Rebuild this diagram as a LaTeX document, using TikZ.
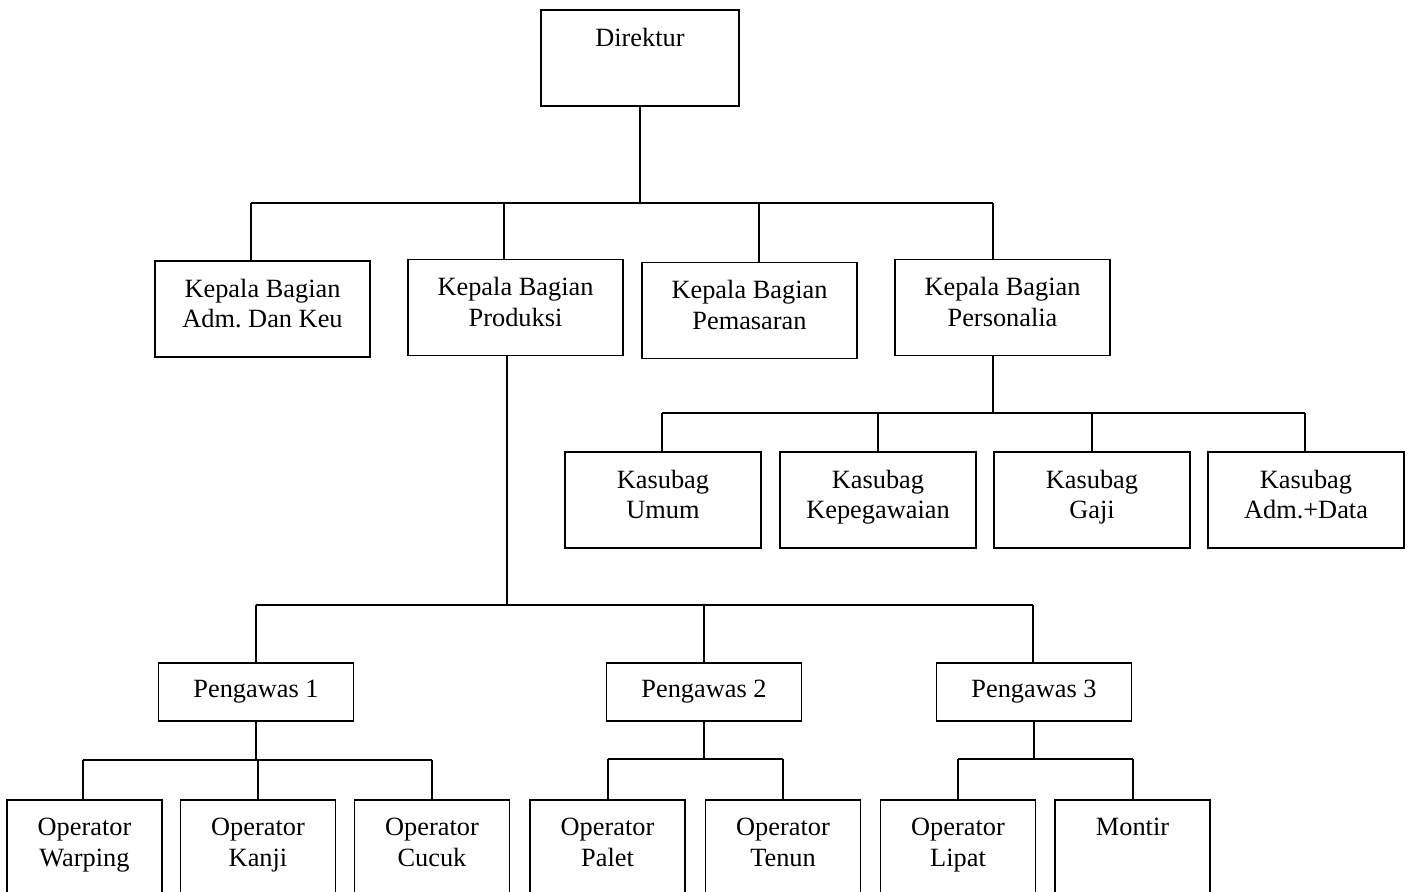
\documentclass[tikz,border=0pt]{standalone}
\usepackage{fontspec}
\setmainfont{Liberation Serif}
\frenchspacing
\usetikzlibrary{positioning}
\begin{document}
\begin{tikzpicture}[x=0.02cm, y=-0.02cm,
    box/.style = {draw,
        line width = 1pt,
        inner sep = 0pt},
    kepala/.style = {box,
        minimum width = 4.3cm,
        minimum height = 1.92cm},
    kasubag/.style = {box,
        minimum width = 3.92cm,
        minimum height = 1.92cm},
    pengawas/.style = {box,
        minimum width = 3.9cm,
        minimum height = 1.16cm,
        font = \fontsize{15}{17.5}\selectfont},
    operator/.style = {box,
        minimum width = 3.1cm,
        minimum height = 2.4cm},
    txt/.style = {align = center,
        inner sep = 0pt,
        font = \fontsize{15}{17.5}\selectfont},
    line/.style = {line width = 1pt}]

\useasboundingbox (0,0) rectangle (1409,892);
\clip (0,0) rectangle (1409,892);

% Direktur
\node[box, minimum width = 3.96cm, minimum height = 1.92cm] (dir) at (640,58) {};
\node[txt, below = 10.5pt of dir.north] (dirt) {Direktur};

% Kepala bagian
\node[kepala] (adm) at (262.5,309) {};
\node[txt, below = 10.5pt of adm.north] (admt) {Kepala Bagian\\Adm. Dan Keu};
\node[kepala] (prod) at (515.5,307.5) {};
\node[txt, below = 10.5pt of prod.north] (prodt) {Kepala Bagian\\Produksi};
\node[kepala] (pem) at (749.5,310.5) {};
\node[txt, below = 10.5pt of pem.north] (pemt) {Kepala Bagian\\Pemasaran};
\node[kepala] (pers) at (1002.5,307.5) {};
\node[txt, below = 10.5pt of pers.north] (perst) {Kepala Bagian\\Personalia};

% Kasubag
\node[kasubag] (umum) at (663,500) {};
\node[txt, below = 10.5pt of umum.north] (umumt) {Kasubag\\Umum};
\node[kasubag] (pegawai) at (878,500) {};
\node[txt, below = 10.5pt of pegawai.north] (pegawait) {Kasubag\\Kepegawaian};
\node[kasubag] (gaji) at (1092,500) {};
\node[txt, below = 10.5pt of gaji.north] (gajit) {Kasubag\\Gaji};
\node[kasubag] (data) at (1306,500) {};
\node[txt, below = 10.5pt of data.north] (datat) {Kasubag\\Adm.+Data};

% Pengawas
\node[pengawas] (p1) at (256,692) {Pengawas 1};
\node[pengawas] (p2) at (704,692) {Pengawas 2};
\node[pengawas] (p3) at (1034,692) {Pengawas 3};

% Operator
\node[operator] (warp) at (84.5,860) {};
\node[txt, below = 10.5pt of warp.north] (warpt) {Operator\\Warping};
\node[operator] (kanji) at (258,860) {};
\node[txt, below = 10.5pt of kanji.north] (kanjit) {Operator\\Kanji};
\node[operator] (cucuk) at (432,860) {};
\node[txt, below = 10.5pt of cucuk.north] (cucukt) {Operator\\Cucuk};
\node[operator] (palet) at (607.5,860) {};
\node[txt, below = 10.5pt of palet.north] (palett) {Operator\\Palet};
\node[operator] (tenun) at (783,860) {};
\node[txt, below = 10.5pt of tenun.north] (tenunt) {Operator\\Tenun};
\node[operator] (lipat) at (958,860) {};
\node[txt, below = 10.5pt of lipat.north] (lipatt) {Operator\\Lipat};
\node[operator] (montir) at (1132.5,860) {};
\node[txt, below = 10.5pt of montir.north] (montirt) {Montir};

% Junctions
\coordinate (kA) at (251,203);
\coordinate (kB) at (504,203);
\coordinate (kC) at (759,203);
\coordinate (kD) at (993,203);
\coordinate (sA) at (662,413);
\coordinate (sD) at (1305,413);
\coordinate (pA) at (256,605);
\coordinate (pB) at (704,605);
\coordinate (pC) at (1033,605);
\coordinate (oA) at (83,760);
\coordinate (oB) at (432,760);
\coordinate (oC) at (608,759);
\coordinate (oD) at (783,759);
\coordinate (oE) at (958,759);
\coordinate (oF) at (1133,759);

% Direktur to kepala bagian
\draw[line] (dir.south) -- (dir.south |- kA);
\draw[line] (kA) -- (kD);
\draw[line] (kA) -- (kA |- adm.north);
\draw[line] (kB) -- (kB |- prod.north);
\draw[line] (kC) -- (kC |- pem.north);
\draw[line] (kD) -- (kD |- pers.north);

% Personalia to kasubag
\draw[line] (kD |- pers.south) -- (kD |- sA);
\draw[line] (sA) -- (sD);
\draw[line] (sA) -- (sA |- umum.north);
\draw[line] (pegawai.north |- sA) -- (pegawai.north);
\draw[line] (gaji.north |- sA) -- (gaji.north);
\draw[line] (sD) -- (sD |- data.north);

% Produksi to pengawas
\draw[line] ([xshift=-0.17cm]prod.south) -- ([xshift=-0.17cm]prod.south |- pA);
\draw[line] (pA) -- (pC);
\draw[line] (pA) -- (p1.north);
\draw[line] (pB) -- (p2.north);
\draw[line] (pC) -- (pC |- p3.north);

% Pengawas to operator
\draw[line] (p1.south) -- (p1.south |- oA);
\draw[line] (oA) -- (oB);
\draw[line] (oA) -- (oA |- warp.north);
\draw[line] (kanji.north |- oA) -- (kanji.north);
\draw[line] (oB) -- (cucuk.north);
\draw[line] (p2.south) -- (p2.south |- oC);
\draw[line] (oC) -- (oD);
\draw[line] (oC) -- (oC |- palet.north);
\draw[line] (oD) -- (tenun.north);
\draw[line] (p3.south) -- (p3.south |- oE);
\draw[line] (oE) -- (oF);
\draw[line] (oE) -- (lipat.north);
\draw[line] (oF) -- (oF |- montir.north);
\end{tikzpicture}
\end{document}
